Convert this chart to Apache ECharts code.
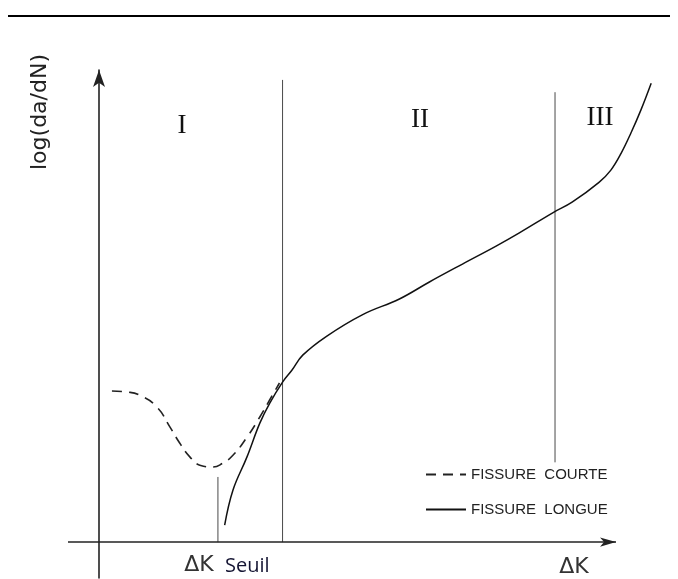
<!DOCTYPE html>
<html>
<head>
<meta charset="utf-8">
<script src="https://cdn.jsdelivr.net/npm/echarts@6/dist/echarts.min.js"></script>
<style>
  html, body { margin: 0; padding: 0; background: #fff; }
  #chart { width: 678px; height: 579px; }
</style>
</head>
<body>
<div id="chart"></div>
<script>
// Fatigue crack growth sketch: log(da/dN) versus ΔK (arbitrary units)
const shortCrackDK = [2.5, 5.4, 7.9, 11.2, 13.7, 15.6, 17.6, 19.5, 22.0, 23.9, 25.9, 28.6, 31.1, 33.0, 34.9];
const shortCrackRate = [32.0, 31.8, 31.1, 28.6, 24.4, 21.0, 18.0, 16.3, 15.9, 16.7, 18.4, 22.2, 26.5, 30.1, 33.7];

const longCrackDK = [24.3, 25.9, 28.6, 31.1, 33.0, 35.5, 37.3, 39.4, 44.0, 51.0, 58.1, 63.9, 70.3, 76.8, 81.3, 88.0, 91.5, 96.7, 99.0, 101.0, 102.9, 104.8, 106.8];
const longCrackRate = [3.6, 11.0, 18.0, 25.2, 29.4, 33.9, 36.4, 39.6, 43.6, 48.2, 51.5, 55.1, 58.9, 62.7, 65.5, 69.9, 72.0, 76.2, 78.8, 82.4, 86.7, 91.5, 97.2];

// Regime boundaries (ΔK, bottom, top) and threshold marker
const boundaryI_II = { dk: 35.5, from: 0, to: 97.9 };
const boundaryII_III = { dk: 88.2, from: 16.9, to: 95.3 };
const thresholdDK = { dk: 23.0, from: 0, to: 13.8 };

// Extent of the drawn ΔK axis arrow
const dkAxisStart = -6;
const dkAxisEnd = 100;

const regimeLabels = ['I', 'II', 'III'];
const legendNames = ['FISSURE  COURTE', 'FISSURE  LONGUE'];

const zip = (xs, ys) => xs.map((x, i) => [x, ys[i]]);
const segment = s => [[s.dk, s.from], [s.dk, s.to]];

const chart = echarts.init(document.getElementById('chart'));

const thinLine = (data) => ({
  type: 'line',
  data: data,
  symbol: 'none',
  silent: true,
  clip: false,
  lineStyle: { color: '#4a4a4a', width: 1 },
  z: 1
});

chart.setOption({
  animation: false,
  backgroundColor: '#fff',
  grid: { left: 68, right: 20.6, top: 70, bottom: 1 },
  xAxis: {
    type: 'value', min: -6, max: 108,
    axisLine: { show: false },
    axisTick: { show: false }, axisLabel: { show: false }, splitLine: { show: false }
  },
  yAxis: {
    type: 'value', min: -7.6, max: 100,
    axisLine: { onZero: true, symbol: ['none', 'arrow'], symbolSize: [9, 17], lineStyle: { color: '#222', width: 1.6 } },
    axisTick: { show: false }, axisLabel: { show: false }, splitLine: { show: false }
  },
  legend: {
    data: legendNames,
    orient: 'vertical',
    left: 420, top: 462,
    itemWidth: 40, itemHeight: 12, itemGap: 20,
    itemStyle: { opacity: 0 },
    textStyle: { fontFamily: 'Liberation Sans', fontSize: 15, color: '#222' },
    selectedMode: false
  },
  series: [
    {
      name: legendNames[0],
      type: 'line',
      data: zip(shortCrackDK, shortCrackRate),
      smooth: true, symbol: 'none', clip: false,
      lineStyle: { color: '#222', width: 1.6, type: [10, 7] },
      itemStyle: { color: '#222' },
      z: 3
    },
    {
      name: legendNames[1],
      type: 'line',
      data: zip(longCrackDK, longCrackRate),
      smooth: 0.4, symbol: 'none', clip: false,
      lineStyle: { color: '#111', width: 1.5 },
      itemStyle: { color: '#111' },
      z: 3
    },
    thinLine(segment(boundaryI_II)),
    thinLine(segment(boundaryII_III)),
    thinLine(segment(thresholdDK)),
    {
      // ΔK axis with arrow head
      type: 'line',
      data: [],
      silent: true,
      markLine: {
        silent: true,
        symbol: ['none', 'arrow'],
        symbolSize: [7, 16],
        label: { show: false },
        lineStyle: { color: '#222', width: 1.6, type: 'solid' },
        data: [[{ coord: [dkAxisStart, 0] }, { coord: [dkAxisEnd, 0] }]]
      }
    }
  ],
  graphic: [
    { type: 'line', shape: { x1: 8, y1: 16, x2: 670, y2: 16 }, style: { stroke: '#000', lineWidth: 2 } },
    { type: 'text', x: 182, y: 126, style: { text: regimeLabels[0], font: '27px "Liberation Serif"', fill: '#111', align: 'center', verticalAlign: 'middle' } },
    { type: 'text', x: 420, y: 120, style: { text: regimeLabels[1], font: '27px "Liberation Serif"', fill: '#111', align: 'center', verticalAlign: 'middle' } },
    { type: 'text', x: 600, y: 118, style: { text: regimeLabels[2], font: '27px "Liberation Serif"', fill: '#111', align: 'center', verticalAlign: 'middle' } },
    { type: 'text', x: 40, y: 112, rotation: Math.PI / 2, style: { text: 'log(da/dN)', font: '22px "DejaVu Sans"', fill: '#222', align: 'center', verticalAlign: 'middle' } },
    { type: 'text', x: 574, y: 567, style: { text: 'ΔK', font: '22px "DejaVu Sans"', fill: '#333', align: 'center', verticalAlign: 'middle' } },
    { type: 'text', x: 199, y: 565, style: { text: 'ΔK', font: '22px "DejaVu Sans"', fill: '#333', align: 'center', verticalAlign: 'middle' } },
    { type: 'text', x: 225, y: 566, style: { text: 'Seuil', font: '20px "Open Sans"', fill: '#141432', align: 'left', verticalAlign: 'middle' } }
  ]
});
</script>
</body>
</html>
